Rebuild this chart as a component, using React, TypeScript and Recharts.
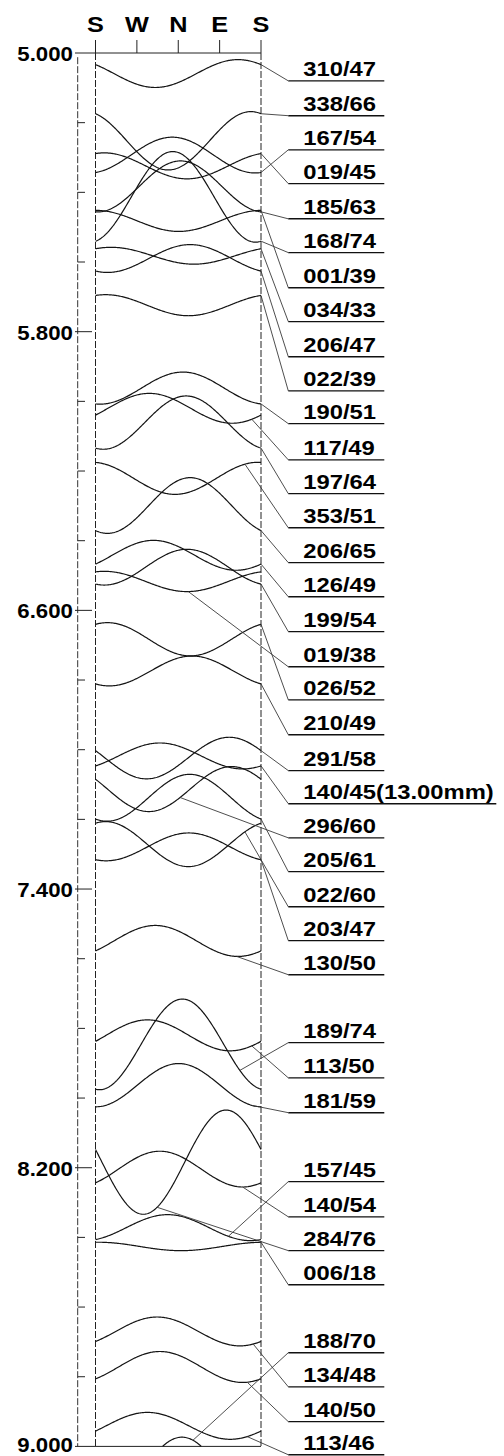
import React from "react";
import { ComposedChart, Line, XAxis, YAxis, ReferenceLine } from "recharts";

// fractures, in label order (dip direction / dip)
const fractureLabels = [
  "310/47", "338/66", "167/54", "019/45", "185/63", "168/74", "001/39", "034/33", "206/47", "022/39",
  "190/51", "117/49", "197/64", "353/51", "206/65", "126/49", "199/54", "019/38", "026/52", "210/49",
  "291/58", "140/45(13.00mm)", "296/60", "205/61", "022/60", "203/47", "130/50", "189/74", "113/50", "181/59",
  "157/45", "140/54", "284/76", "006/18", "188/70", "134/48", "140/50", "113/46",
];
const dipDirection = [
  310, 338, 167, 19, 185, 168, 1, 34, 206, 22,
  190, 117, 197, 353, 206, 126, 199, 19, 26, 210,
  291, 140, 296, 205, 22, 203, 130, 189, 113, 181,
  157, 140, 284, 6, 188, 134, 140, 113,
];
const dipAngle = [
  47, 66, 54, 45, 63, 74, 39, 33, 47, 39,
  51, 49, 64, 51, 65, 49, 54, 38, 52, 49,
  58, 45, 60, 61, 60, 47, 50, 74, 50, 59,
  45, 54, 76, 18, 70, 48, 50, 46,
];
// depth of each trace's centre line (m)
const centerDepth = [
  5.059, 5.252, 5.293, 5.324, 5.383, 5.413, 5.482, 5.582, 5.59, 5.724,
  5.962, 6.02, 6.061, 6.221, 6.299, 6.442, 6.476, 6.517, 6.683, 6.774,
  7.024, 7.018, 7.113, 7.138, 7.271, 7.279, 7.549, 7.846, 7.82, 7.963,
  8.372, 8.204, 8.184, 8.426, 9.076, 8.67, 8.772, 8.941,
];
// depth at which each label sits (m)
const labelDepth = [
  5.08, 5.18, 5.278, 5.375, 5.476, 5.573, 5.674, 5.771, 5.872, 5.97,
  6.064, 6.168, 6.265, 6.363, 6.463, 6.561, 6.661, 6.762, 6.857, 6.957,
  7.06, 7.155, 7.253, 7.35, 7.451, 7.548, 7.646, 7.841, 7.942, 8.042,
  8.24, 8.341, 8.438, 8.536, 8.731, 8.829, 8.929, 9.024,
];
// azimuth (S=180 .. S=540) where the leader leaves the trace
const leaderAzimuth = [
  540, 540, 540, 540, 540, 540, 540, 540, 540, 540,
  540, 520, 540, 505, 540, 540, 540, 382, 540, 540,
  540, 540, 364, 540, 505, 540, 487, 494, 520, 520,
  469, 500, 314, 540, 392, 523, 510, 510,
];

const compassTicks = [180, 270, 360, 450, 540];
const compassNames = ["S", "W", "N", "E", "S"];
const depthTicks = [5.0, 5.2, 5.4, 5.6, 5.8, 6.0, 6.2, 6.4, 6.6, 6.8, 7.0, 7.2, 7.4, 7.6, 7.8, 8.0, 8.2, 8.4, 8.6, 8.8, 9.0];
const depthLabelTicks = [5.0, 5.8, 6.6, 7.4, 8.2, 9.0];

const BOREHOLE_RADIUS = 0.0373; // m
const BOTTOM_DEPTH = 9.0;

// layout
const W = 504;
const H = 1456;
const AXIS_H = 53;
const AXIS_W = 77;
const PLOT_L = 95.5;
const PLOT_R = 261;
const PX_PER_DEG = (PLOT_R - PLOT_L) / 360;
const PX_PER_M = 348.35;
const xAt = (px: number) => 180 + (px - PLOT_L) / PX_PER_DEG;
const X_MIN = xAt(AXIS_W);
const X_MAX = xAt(W);
const D_MIN = 5;
const D_MAX = 5 + (H - AXIS_H) / PX_PER_M;
const LABEL_START = 288.3;
const FONT = "'Liberation Sans', Arial, sans-serif";

const rad = (deg: number) => (deg * Math.PI) / 180;
const traceDepth = (i: number, az: number) =>
  centerDepth[i] + BOREHOLE_RADIUS * Math.tan(rad(dipAngle[i])) * Math.cos(rad(az - dipDirection[i]));

const traces = fractureLabels.map((_, i) => {
  const pts: { x: number; d: number | null }[] = [];
  for (let az = 180; az <= 540; az += 2) {
    const d = traceDepth(i, az);
    pts.push({ x: az, d: d <= BOTTOM_DEPTH ? d : null });
  }
  return pts;
});

const leaders = fractureLabels.map((_, i) => [
  { x: leaderAzimuth[i], d: traceDepth(i, leaderAzimuth[i]) },
  { x: xAt(LABEL_START), d: labelDepth[i] },
]);

const underlines = fractureLabels.map((lab, i) => [
  { x: xAt(LABEL_START), d: labelDepth[i] },
  { x: xAt(LABEL_START + (lab.length > 6 ? 208 : 96)), d: labelDepth[i] },
]);

function CompassTick(props: any) {
  const { x, payload } = props;
  const name = compassNames[compassTicks.indexOf(payload.value)];
  return (
    <g>
      <line x1={x} x2={x} y1={40} y2={AXIS_H} stroke="#222" strokeWidth={1} />
      <text
        transform={`translate(${x} 31.7) scale(1.15 1)`}
        textAnchor="middle"
        fontFamily={FONT}
        fontWeight={700}
        fontSize={22}
        fill="#000"
      >
        {name}
      </text>
    </g>
  );
}

function DepthTick(props: any) {
  const { y, payload } = props;
  const v = payload.value;
  const major = depthLabelTicks.some((t) => Math.abs(t - v) < 1e-6);
  // keep the lowest label inside the picture
  const base = Math.min(y + 8, H - 4);
  return (
    <g>
      <line x1={major ? 75 : 77.7} x2={major ? 92 : 85} y1={y} y2={y} stroke="#222" strokeWidth={1} />
      {major && (
        <text
          transform={`translate(73 ${base}) scale(1.06 1)`}
          textAnchor="end"
          fontFamily={FONT}
          fontWeight={700}
          fontSize={21}
          fill="#000"
        >
          {v.toFixed(3)}
        </text>
      )}
    </g>
  );
}

export default function App() {
  return (
    <div style={{ position: "absolute", left: 0, top: 0, background: "#fff" }}>
      <ComposedChart width={W} height={H} margin={{ top: 0, right: 0, bottom: 0, left: 0 }}>
        <XAxis
          type="number"
          dataKey="x"
          domain={[X_MIN, X_MAX]}
          allowDataOverflow
          orientation="top"
          height={AXIS_H}
          ticks={compassTicks}
          interval={0}
          axisLine={false}
          tickLine={false}
          tick={<CompassTick />}
        />
        <YAxis
          type="number"
          dataKey="d"
          domain={[D_MIN, D_MAX]}
          allowDataOverflow
          reversed
          width={AXIS_W}
          ticks={depthTicks}
          interval={0}
          axisLine={false}
          tickLine={false}
          tick={<DepthTick />}
        />

        {/* depth axis line and borehole box */}
        <ReferenceLine segment={[{ x: xAt(77.7), y: 5.012 }, { x: xAt(77.7), y: 9 }]} stroke="#333" strokeWidth={1} strokeDasharray="7 2" />
        <ReferenceLine segment={[{ x: xAt(92), y: 5 }, { x: 540, y: 5 }]} stroke="#222" strokeWidth={1} />
        <ReferenceLine segment={[{ x: xAt(92), y: 9 }, { x: 540, y: 9 }]} stroke="#222" strokeWidth={1} />
        <ReferenceLine segment={[{ x: 180, y: 5 }, { x: 180, y: 9 }]} stroke="#222" strokeWidth={1} strokeDasharray="7 2" />
        <ReferenceLine segment={[{ x: 540, y: 5 }, { x: 540, y: 9 }]} stroke="#222" strokeWidth={1} strokeDasharray="7 2" />

        {traces.map((pts, i) => (
          <Line
            key={`trace-${i}`}
            data={pts}
            dataKey="d"
            type="linear"
            stroke="#141414"
            strokeWidth={1.2}
            dot={false}
            activeDot={false}
            connectNulls={false}
            legendType="none"
            isAnimationActive={false}
          />
        ))}

        {leaders.map((pts, i) => (
          <Line
            key={`leader-${i}`}
            data={pts}
            dataKey="d"
            type="linear"
            stroke="#3a3a3a"
            strokeWidth={0.9}
            dot={false}
            activeDot={false}
            legendType="none"
            isAnimationActive={false}
          />
        ))}

        {underlines.map((pts, i) => (
          <Line
            key={`label-${i}`}
            data={pts}
            dataKey="d"
            type="linear"
            stroke="#111"
            strokeWidth={1.4}
            activeDot={false}
            legendType="none"
            isAnimationActive={false}
            dot={(p: any) =>
              p.index === 0 ? (
                <text
                  key={`txt-${i}`}
                  transform={`translate(${p.cx + 15} ${p.cy - 4.5}) scale(1.19 1)`}
                  fontFamily={FONT}
                  fontWeight={700}
                  fontSize={20}
                  fill="#000"
                >
                  {fractureLabels[i]}
                </text>
              ) : (
                <g key={`nodot-${i}-${p.index}`} />
              )
            }
          />
        ))}
      </ComposedChart>
    </div>
  );
}
